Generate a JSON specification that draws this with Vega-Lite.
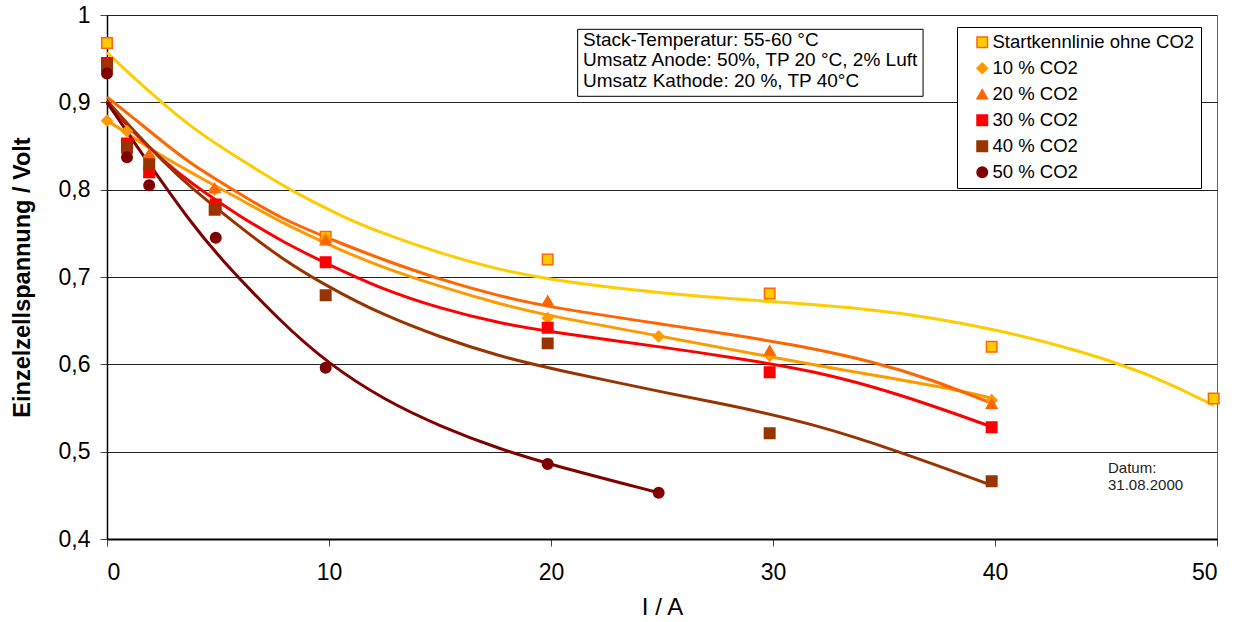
{
  "$schema": "https://vega.github.io/schema/vega-lite/v6.json",
  "width": 1110,
  "height": 524,
  "autosize": {"type": "none"},
  "padding": {"left": 107, "top": 15, "right": 25, "bottom": 83},
  "background": "white",
  "config": {
    "font": "Liberation Sans",
    "view": {"stroke": "#666", "strokeWidth": 1},
    "axis": {"labelColor": "black", "titleColor": "black", "labelFont": "Liberation Sans", "titleFont": "Liberation Sans"},
    "legend": {"strokeColor": "black", "fillColor": "white", "padding": 6, "labelFontSize": 18.5, "labelFont": "Liberation Sans",
               "labelColor": "black", "rowPadding": 7, "symbolOffset": 10, "labelOffset": 1, "symbolSize": 110,
               "symbolStrokeWidth": 1.5, "labelLimit": 400}
  },
  "datasets": {
    "crv": [
      {"s": "Startkennlinie ohne CO2", "x": 0, "y": 0.957},
      {"s": "Startkennlinie ohne CO2", "x": 1.25, "y": 0.927},
      {"s": "Startkennlinie ohne CO2", "x": 2.5, "y": 0.899},
      {"s": "Startkennlinie ohne CO2", "x": 3.74, "y": 0.873},
      {"s": "Startkennlinie ohne CO2", "x": 5, "y": 0.851},
      {"s": "Startkennlinie ohne CO2", "x": 6.5, "y": 0.827},
      {"s": "Startkennlinie ohne CO2", "x": 8, "y": 0.803},
      {"s": "Startkennlinie ohne CO2", "x": 10.5, "y": 0.77},
      {"s": "Startkennlinie ohne CO2", "x": 12.3, "y": 0.751},
      {"s": "Startkennlinie ohne CO2", "x": 15, "y": 0.727},
      {"s": "Startkennlinie ohne CO2", "x": 17.7, "y": 0.708},
      {"s": "Startkennlinie ohne CO2", "x": 20, "y": 0.697},
      {"s": "Startkennlinie ohne CO2", "x": 23, "y": 0.687},
      {"s": "Startkennlinie ohne CO2", "x": 25.8, "y": 0.68},
      {"s": "Startkennlinie ohne CO2", "x": 28.1, "y": 0.675},
      {"s": "Startkennlinie ohne CO2", "x": 31, "y": 0.67},
      {"s": "Startkennlinie ohne CO2", "x": 34, "y": 0.664},
      {"s": "Startkennlinie ohne CO2", "x": 37.1, "y": 0.654},
      {"s": "Startkennlinie ohne CO2", "x": 40.2, "y": 0.639},
      {"s": "Startkennlinie ohne CO2", "x": 43, "y": 0.621},
      {"s": "Startkennlinie ohne CO2", "x": 45.6, "y": 0.601},
      {"s": "Startkennlinie ohne CO2", "x": 47.8, "y": 0.579},
      {"s": "Startkennlinie ohne CO2", "x": 49.85, "y": 0.553},
      {"s": "10 % CO2", "x": 0, "y": 0.879},
      {"s": "10 % CO2", "x": 0.95, "y": 0.864},
      {"s": "10 % CO2", "x": 1.85, "y": 0.848},
      {"s": "10 % CO2", "x": 3.74, "y": 0.82},
      {"s": "10 % CO2", "x": 6, "y": 0.789},
      {"s": "10 % CO2", "x": 7.8, "y": 0.763},
      {"s": "10 % CO2", "x": 10.5, "y": 0.731},
      {"s": "10 % CO2", "x": 12.3, "y": 0.712},
      {"s": "10 % CO2", "x": 15, "y": 0.689},
      {"s": "10 % CO2", "x": 17.7, "y": 0.669},
      {"s": "10 % CO2", "x": 20, "y": 0.655},
      {"s": "10 % CO2", "x": 25, "y": 0.632},
      {"s": "10 % CO2", "x": 28.1, "y": 0.617},
      {"s": "10 % CO2", "x": 30, "y": 0.608},
      {"s": "10 % CO2", "x": 32.6, "y": 0.596},
      {"s": "10 % CO2", "x": 35.6, "y": 0.583},
      {"s": "10 % CO2", "x": 38.6, "y": 0.569},
      {"s": "10 % CO2", "x": 39.9, "y": 0.561},
      {"s": "20 % CO2", "x": 0, "y": 0.906},
      {"s": "20 % CO2", "x": 1.25, "y": 0.881},
      {"s": "20 % CO2", "x": 2.5, "y": 0.855},
      {"s": "20 % CO2", "x": 3.74, "y": 0.83},
      {"s": "20 % CO2", "x": 6, "y": 0.795},
      {"s": "20 % CO2", "x": 7.8, "y": 0.767},
      {"s": "20 % CO2", "x": 10.5, "y": 0.739},
      {"s": "20 % CO2", "x": 12.3, "y": 0.721},
      {"s": "20 % CO2", "x": 15, "y": 0.697},
      {"s": "20 % CO2", "x": 17.7, "y": 0.678},
      {"s": "20 % CO2", "x": 20, "y": 0.665},
      {"s": "20 % CO2", "x": 25.8, "y": 0.643},
      {"s": "20 % CO2", "x": 28.1, "y": 0.634},
      {"s": "20 % CO2", "x": 31.1, "y": 0.622},
      {"s": "20 % CO2", "x": 34.7, "y": 0.602},
      {"s": "20 % CO2", "x": 37.1, "y": 0.583},
      {"s": "20 % CO2", "x": 39.9, "y": 0.555},
      {"s": "30 % CO2", "x": 0, "y": 0.899},
      {"s": "30 % CO2", "x": 1.25, "y": 0.864},
      {"s": "30 % CO2", "x": 2.5, "y": 0.834},
      {"s": "30 % CO2", "x": 3.74, "y": 0.808},
      {"s": "30 % CO2", "x": 6, "y": 0.769},
      {"s": "30 % CO2", "x": 8, "y": 0.739},
      {"s": "30 % CO2", "x": 10, "y": 0.714},
      {"s": "30 % CO2", "x": 12.3, "y": 0.687},
      {"s": "30 % CO2", "x": 15, "y": 0.664},
      {"s": "30 % CO2", "x": 17.7, "y": 0.647},
      {"s": "30 % CO2", "x": 20, "y": 0.637},
      {"s": "30 % CO2", "x": 25.8, "y": 0.617},
      {"s": "30 % CO2", "x": 28.1, "y": 0.608},
      {"s": "30 % CO2", "x": 31.8, "y": 0.593},
      {"s": "30 % CO2", "x": 35.6, "y": 0.567},
      {"s": "30 % CO2", "x": 39.9, "y": 0.528},
      {"s": "40 % CO2", "x": 0, "y": 0.902},
      {"s": "40 % CO2", "x": 1.25, "y": 0.866},
      {"s": "40 % CO2", "x": 2.5, "y": 0.833},
      {"s": "40 % CO2", "x": 3.74, "y": 0.803},
      {"s": "40 % CO2", "x": 6, "y": 0.757},
      {"s": "40 % CO2", "x": 7.8, "y": 0.722},
      {"s": "40 % CO2", "x": 10, "y": 0.688},
      {"s": "40 % CO2", "x": 12.3, "y": 0.658},
      {"s": "40 % CO2", "x": 15, "y": 0.631},
      {"s": "40 % CO2", "x": 17.7, "y": 0.609},
      {"s": "40 % CO2", "x": 20, "y": 0.595},
      {"s": "40 % CO2", "x": 25.8, "y": 0.564},
      {"s": "40 % CO2", "x": 28.1, "y": 0.553},
      {"s": "40 % CO2", "x": 31.8, "y": 0.532},
      {"s": "40 % CO2", "x": 35.6, "y": 0.501},
      {"s": "40 % CO2", "x": 39.9, "y": 0.461},
      {"s": "50 % CO2", "x": 0, "y": 0.9},
      {"s": "50 % CO2", "x": 1.25, "y": 0.853},
      {"s": "50 % CO2", "x": 2.5, "y": 0.808},
      {"s": "50 % CO2", "x": 3.74, "y": 0.764},
      {"s": "50 % CO2", "x": 5, "y": 0.724},
      {"s": "50 % CO2", "x": 7.8, "y": 0.649},
      {"s": "50 % CO2", "x": 10, "y": 0.6},
      {"s": "50 % CO2", "x": 12.5, "y": 0.559},
      {"s": "50 % CO2", "x": 15, "y": 0.529},
      {"s": "50 % CO2", "x": 17.7, "y": 0.503},
      {"s": "50 % CO2", "x": 19.85, "y": 0.486},
      {"s": "50 % CO2", "x": 24.85, "y": 0.453}
    ],
    "pts": [
      {"s": "Startkennlinie ohne CO2", "x": 0, "y": 0.968},
      {"s": "Startkennlinie ohne CO2", "x": 9.85, "y": 0.746},
      {"s": "Startkennlinie ohne CO2", "x": 19.85, "y": 0.72},
      {"s": "Startkennlinie ohne CO2", "x": 29.85, "y": 0.681},
      {"s": "Startkennlinie ohne CO2", "x": 39.85, "y": 0.62},
      {"s": "Startkennlinie ohne CO2", "x": 49.85, "y": 0.561},
      {"s": "10 % CO2", "x": 0, "y": 0.879},
      {"s": "10 % CO2", "x": 0.9, "y": 0.867},
      {"s": "10 % CO2", "x": 1.9, "y": 0.838},
      {"s": "10 % CO2", "x": 4.85, "y": 0.8},
      {"s": "10 % CO2", "x": 9.85, "y": 0.744},
      {"s": "10 % CO2", "x": 19.85, "y": 0.653},
      {"s": "10 % CO2", "x": 24.85, "y": 0.632},
      {"s": "10 % CO2", "x": 29.85, "y": 0.61},
      {"s": "10 % CO2", "x": 39.85, "y": 0.559},
      {"s": "20 % CO2", "x": 1.9, "y": 0.841},
      {"s": "20 % CO2", "x": 4.85, "y": 0.802},
      {"s": "20 % CO2", "x": 9.85, "y": 0.742},
      {"s": "20 % CO2", "x": 19.85, "y": 0.673},
      {"s": "20 % CO2", "x": 29.85, "y": 0.616},
      {"s": "20 % CO2", "x": 39.85, "y": 0.555},
      {"s": "30 % CO2", "x": 0, "y": 0.945},
      {"s": "30 % CO2", "x": 0.9, "y": 0.853},
      {"s": "30 % CO2", "x": 1.9, "y": 0.82},
      {"s": "30 % CO2", "x": 4.9, "y": 0.783},
      {"s": "30 % CO2", "x": 9.85, "y": 0.717},
      {"s": "30 % CO2", "x": 19.85, "y": 0.642},
      {"s": "30 % CO2", "x": 29.85, "y": 0.591},
      {"s": "30 % CO2", "x": 39.85, "y": 0.528},
      {"s": "40 % CO2", "x": 0, "y": 0.942},
      {"s": "40 % CO2", "x": 0.9, "y": 0.848},
      {"s": "40 % CO2", "x": 1.9, "y": 0.829},
      {"s": "40 % CO2", "x": 4.85, "y": 0.777},
      {"s": "40 % CO2", "x": 9.85, "y": 0.679},
      {"s": "40 % CO2", "x": 19.85, "y": 0.624},
      {"s": "40 % CO2", "x": 29.85, "y": 0.521},
      {"s": "40 % CO2", "x": 39.85, "y": 0.466},
      {"s": "50 % CO2", "x": 0, "y": 0.933},
      {"s": "50 % CO2", "x": 0.9, "y": 0.837},
      {"s": "50 % CO2", "x": 1.9, "y": 0.805},
      {"s": "50 % CO2", "x": 4.9, "y": 0.745},
      {"s": "50 % CO2", "x": 9.85, "y": 0.596},
      {"s": "50 % CO2", "x": 19.85, "y": 0.486},
      {"s": "50 % CO2", "x": 24.85, "y": 0.453}
    ],
    "box": [
      {"x": 21.2, "x2": 36.76, "y": 0.9836, "y2": 0.9069}
    ],
    "note": [
      {"x": 21.44, "y": 0.971, "t": "Stack-Temperatur: 55-60 °C"},
      {"x": 21.44, "y": 0.948, "t": "Umsatz Anode: 50%, TP 20 °C, 2% Luft"},
      {"x": 21.44, "y": 0.925, "t": "Umsatz Kathode: 20 %, TP 40°C"}
    ],
    "datum": [
      {"x": 45.09, "y": 0.481, "t": "Datum:"},
      {"x": 45.09, "y": 0.462, "t": "31.08.2000"}
    ]
  },
  "encoding": {
    "x": {
      "field": "x", "type": "quantitative",
      "scale": {"domain": [0, 50], "nice": false, "zero": false},
      "axis": {
        "title": "I / A", "values": [0, 10, 20, 30, 40, 50], "grid": false,
        "domainColor": "black", "domainWidth": 2, "tickColor": "#444", "tickSize": 7,
        "labelFontSize": 23, "labelPadding": 15, "titleFontSize": 24, "titleFontWeight": "normal", "titlePadding": 11
      }
    },
    "y": {
      "field": "y", "type": "quantitative",
      "scale": {"domain": [0.4, 1.0], "nice": false, "zero": false},
      "axis": {
        "title": "Einzelzellspannung / Volt", "values": [0.4, 0.5, 0.6, 0.7, 0.8, 0.9, 1.0],
        "labelExpr": "datum.value == 1 ? '1' : replace(format(datum.value, '.1f'), '.', ',')",
        "grid": true, "gridColor": "#222", "gridWidth": 1,
        "domainColor": "black", "domainWidth": 1.5, "tickColor": "#444", "tickSize": 7,
        "labelFontSize": 23, "labelPadding": 10, "titleFontSize": 23.5, "titleFontWeight": "bold", "titlePadding": 24
      }
    }
  },
  "layer": [
    {
      "data": {"name": "crv"},
      "mark": {"type": "line", "interpolate": "basis", "strokeWidth": 3},
      "encoding": {
        "color": {
          "field": "s", "type": "nominal",
          "scale": {"range": ["#FF9900", "#FF6600", "#FF0000", "#993300", "#800000", "#FFCC00"]},
          "legend": null
        }
      }
    },
    {
      "data": {"name": "pts"},
      "mark": {"type": "point", "filled": true, "size": 110, "strokeWidth": 1.5, "opacity": 1},
      "encoding": {
        "fill": {
          "field": "s", "type": "nominal",
          "scale": {"domain": ["Startkennlinie ohne CO2", "10 % CO2", "20 % CO2", "30 % CO2", "40 % CO2", "50 % CO2"],
                    "range": ["#FFCC00", "#FF9900", "#FF6600", "#FF0000", "#993300", "#800000"]},
          "legend": {"orient": "none", "legendX": 850, "legendY": 12, "title": null}
        },
        "stroke": {
          "field": "s", "type": "nominal",
          "scale": {"domain": ["Startkennlinie ohne CO2", "10 % CO2", "20 % CO2", "30 % CO2", "40 % CO2", "50 % CO2"],
                    "range": ["#FF6600", "#FF9900", "#FF6600", "#FF0000", "#993300", "#800000"]},
          "legend": {"orient": "none", "legendX": 850, "legendY": 12, "title": null}
        },
        "shape": {
          "field": "s", "type": "nominal",
          "scale": {"domain": ["Startkennlinie ohne CO2", "10 % CO2", "20 % CO2", "30 % CO2", "40 % CO2", "50 % CO2"],
                    "range": ["square", "diamond", "triangle-up", "square", "square", "circle"]},
          "legend": {"orient": "none", "legendX": 850, "legendY": 12, "title": null}
        }
      }
    },
    {
      "data": {"name": "box"},
      "mark": {"type": "rect", "fill": "white", "stroke": "black", "strokeWidth": 1},
      "encoding": {"x2": {"field": "x2"}, "y2": {"field": "y2"}}
    },
    {
      "data": {"name": "note"},
      "mark": {"type": "text", "align": "left", "baseline": "middle", "fontSize": 19, "font": "Liberation Sans", "color": "black"},
      "encoding": {"text": {"field": "t"}}
    },
    {
      "data": {"name": "datum"},
      "mark": {"type": "text", "align": "left", "baseline": "middle", "fontSize": 15, "font": "Liberation Sans", "color": "#222"},
      "encoding": {"text": {"field": "t"}}
    }
  ]
}
